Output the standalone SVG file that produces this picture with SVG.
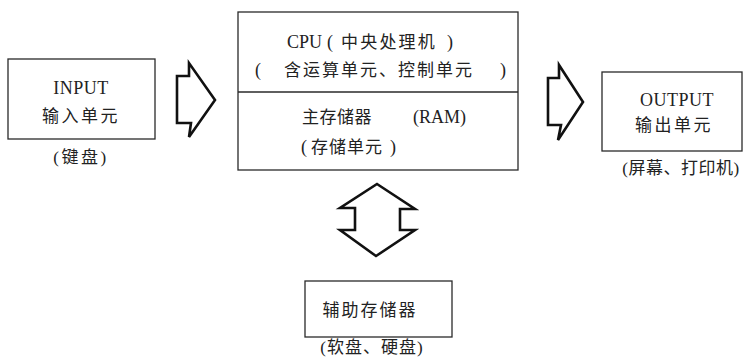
<svg xmlns="http://www.w3.org/2000/svg" width="748" height="358" viewBox="0 0 748 358">
<style>
.box{fill:none;stroke:#2a2a2a;stroke-width:1.3}
.arrow{fill:#fff;stroke:#111;stroke-width:2.6;stroke-linejoin:miter}
.lat{font-family:"Liberation Serif",serif;font-size:18px;fill:#222}
.cjk{font-family:"Liberation Serif","Noto Sans CJK SC",sans-serif;font-size:17px;fill:#222}
</style>
<rect width="748" height="358" fill="#fff"/>
<g id="connectors">
<polygon class="arrow" points="177,76 189,76 189,63 215,100 189,137 191,123 177,123"/>
<polygon class="arrow" points="548,78 559,78 559,65 583,102 558,140 561,125 548,125"/>
<polygon class="arrow" points="377,184 415,209 400,209 400,230 415,230 376,256 340,230 355,230 355,208 340,208"/>
</g>
<g id="input">
<rect class="box" x="8" y="59" width="147" height="80"/>
<text class="lat" x="81" y="94" text-anchor="middle" letter-spacing="0.5">INPUT</text>
<text class="cjk" x="81" y="122" text-anchor="middle" letter-spacing="2.5">输入单元</text>
<text class="cjk" x="81" y="163" text-anchor="middle" letter-spacing="2.5">(键盘)</text>
</g>
<g id="cpu">
<rect class="box" x="238" y="12" width="280" height="158"/>
<line class="box" x1="238" y1="92" x2="518" y2="92"/>
<text class="lat" x="287" y="48">CPU</text>
<text class="lat" x="327" y="48">(</text>
<text class="cjk" x="341" y="48" letter-spacing="2.2">中央处理机</text>
<text class="lat" x="447" y="48">)</text>
<text class="lat" x="255" y="76">(</text>
<text class="cjk" x="284" y="76" letter-spacing="2">含运算单元、控制单元</text>
<text class="lat" x="500" y="76">)</text>
<text class="cjk" x="302" y="123" letter-spacing="0.5">主存储器</text>
<text class="lat" x="413" y="123">(RAM)</text>
<text class="lat" x="301" y="153">(</text>
<text class="cjk" x="311" y="153" letter-spacing="1">存储单元</text>
<text class="lat" x="390" y="153">)</text>
</g>
<g id="output">
<rect class="box" x="602" y="72" width="140" height="79"/>
<text class="lat" x="677" y="106" text-anchor="middle" letter-spacing="0.5">OUTPUT</text>
<text class="cjk" x="674" y="131" text-anchor="middle" letter-spacing="2.5">输出单元</text>
<text class="cjk" x="681" y="174" text-anchor="middle" letter-spacing="0.5">(屏幕、打印机)</text>
</g>
<g id="aux">
<rect class="box" x="305" y="281" width="147" height="56"/>
<text class="cjk" x="370" y="316" text-anchor="middle" letter-spacing="2">辅助存储器</text>
<text class="cjk" x="372" y="353" text-anchor="middle" letter-spacing="1">(软盘、硬盘)</text>
</g>
</svg>
